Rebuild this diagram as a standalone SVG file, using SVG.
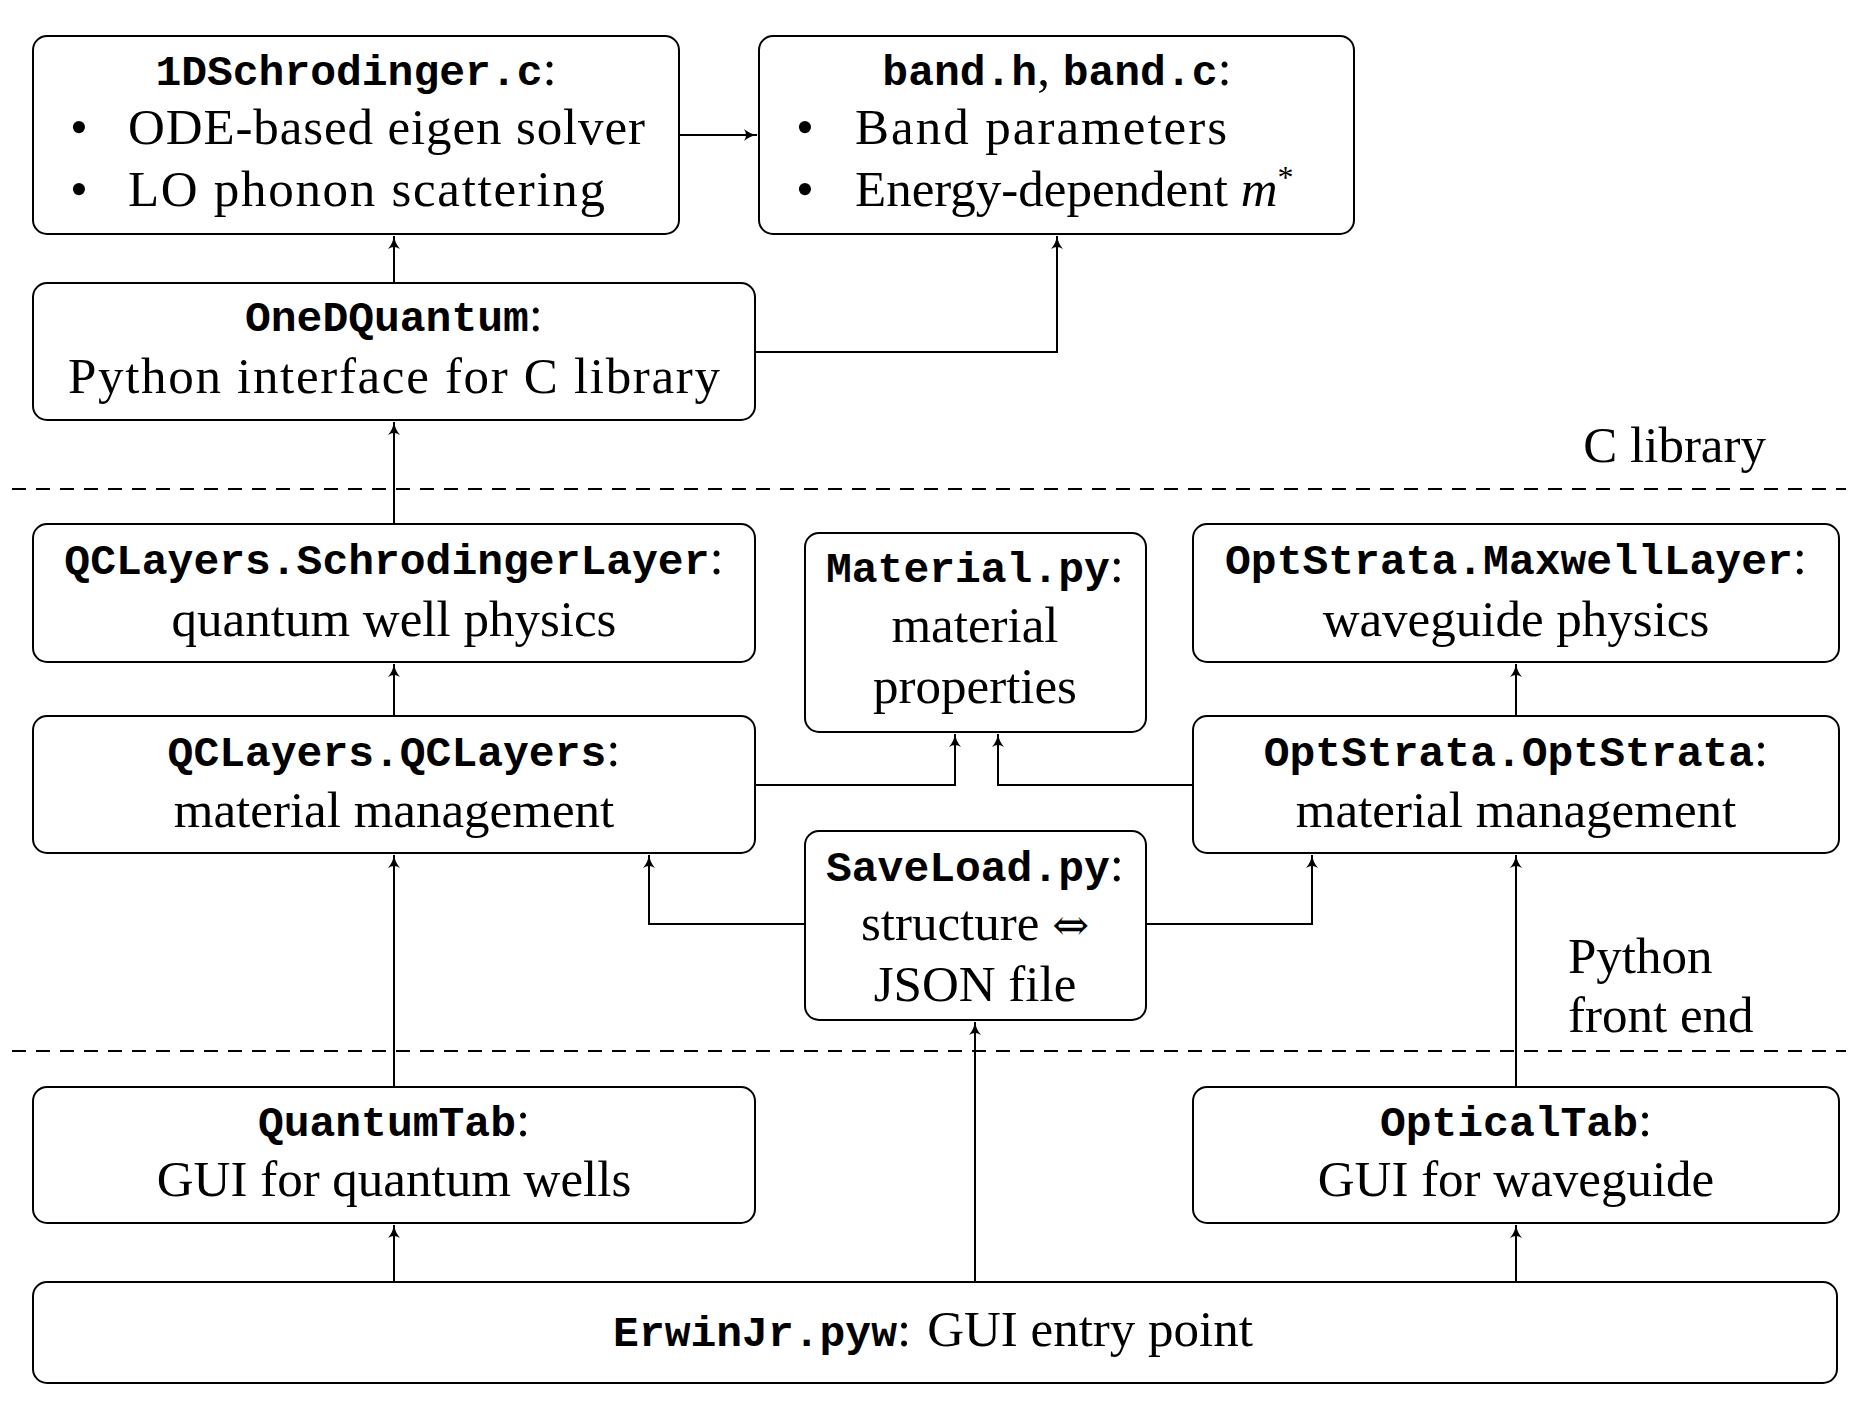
<svg xmlns="http://www.w3.org/2000/svg" width="1856" height="1406" viewBox="0 0 1856 1406">
<style>
.b{fill:#fff;stroke:#000;stroke-width:2}
text{font-family:"Liberation Serif","DejaVu Serif",serif;font-size:51px;fill:#000}
.c{text-anchor:middle}
.m{font-family:"Liberation Mono","DejaVu Sans Mono",monospace;font-size:43px;font-weight:bold;stroke:none}
.l{fill:none;stroke:#000;stroke-width:2}
.d{fill:none;stroke:#000;stroke-width:2;stroke-dasharray:14,10}
</style>
<defs><marker id="a" markerWidth="14" markerHeight="12" refX="13" refY="6" orient="auto" markerUnits="userSpaceOnUse"><path d="M0,0 Q6,5 13,6 Q6,7 0,12 Q4,6 0,0Z" fill="#000"/></marker></defs>
<rect width="1856" height="1406" fill="#fff"/>
<g id="connectors">
<line class="d" x1="12" y1="489" x2="1846" y2="489"/>
<line class="d" x1="12" y1="1051" x2="1846" y2="1051"/>
<line class="l" x1="679" y1="135" x2="757" y2="135" marker-end="url(#a)"/>
<line class="l" x1="394" y1="283" x2="394" y2="236" marker-end="url(#a)"/>
<polyline class="l" points="755,352 1057,352 1057,236" marker-end="url(#a)"/>
<line class="l" x1="394" y1="524" x2="394" y2="422" marker-end="url(#a)"/>
<line class="l" x1="394" y1="716" x2="394" y2="664" marker-end="url(#a)"/>
<line class="l" x1="1516" y1="716" x2="1516" y2="664" marker-end="url(#a)"/>
<polyline class="l" points="755,785 955,785 955,734" marker-end="url(#a)"/>
<polyline class="l" points="1193,785 998,785 998,734" marker-end="url(#a)"/>
<polyline class="l" points="805,924 649,924 649,855" marker-end="url(#a)"/>
<polyline class="l" points="1146,924 1312,924 1312,855" marker-end="url(#a)"/>
<line class="l" x1="394" y1="1087" x2="394" y2="855" marker-end="url(#a)"/>
<line class="l" x1="1516" y1="1087" x2="1516" y2="855" marker-end="url(#a)"/>
<line class="l" x1="394" y1="1282" x2="394" y2="1225" marker-end="url(#a)"/>
<line class="l" x1="975" y1="1282" x2="975" y2="1022" marker-end="url(#a)"/>
<line class="l" x1="1516" y1="1282" x2="1516" y2="1225" marker-end="url(#a)"/>
</g>
<g id="n1"><rect class="b" x="33" y="36" width="646" height="198" rx="14"/>
<text class="c" x="356" y="85"><tspan class="m" font-weight="normal">1DSchrodinger.c</tspan>:</text>
<text x="70" y="144" font-size="60">•</text><text x="128" y="144" textLength="517">ODE-based eigen solver</text>
<text x="70" y="206" font-size="60">•</text><text x="128" y="206" textLength="477">LO phonon scattering</text></g>
<g id="n2"><rect class="b" x="759" y="36" width="595" height="198" rx="14"/>
<text class="c" x="1057" y="85"><tspan class="m">band.h</tspan>, <tspan class="m">band.c</tspan>:</text>
<text x="796" y="144" font-size="60">•</text><text x="855" y="144" textLength="372">Band parameters</text>
<text x="796" y="206" font-size="60">•</text><text x="855" y="206">Energy-dependent <tspan font-style="italic">m</tspan><tspan font-size="32" dy="-18">*</tspan></text></g>
<g id="n3"><rect class="b" x="33" y="283" width="722" height="137" rx="14"/>
<text class="c" x="394" y="331"><tspan class="m">OneDQuantum</tspan>:</text>
<text class="c" x="394" y="393" textLength="652">Python interface for C library</text></g>
<text x="1766" y="462" text-anchor="end">C library</text>
<g id="n4"><rect class="b" x="33" y="524" width="722" height="138" rx="14"/>
<text class="c" x="394" y="574"><tspan class="m">QCLayers.SchrodingerLayer</tspan>:</text>
<text class="c" x="394" y="636">quantum well physics</text></g>
<g id="n5"><rect class="b" x="805" y="533" width="341" height="199" rx="14"/>
<text class="c" x="975" y="582"><tspan class="m">Material.py</tspan>:</text>
<text class="c" x="975" y="642">material</text>
<text class="c" x="975" y="703">properties</text></g>
<g id="n6"><rect class="b" x="1193" y="524" width="646" height="138" rx="14"/>
<text class="c" x="1516" y="574"><tspan class="m">OptStrata.MaxwellLayer</tspan>:</text>
<text class="c" x="1516" y="636">waveguide physics</text></g>
<g id="n7"><rect class="b" x="33" y="716" width="722" height="137" rx="14"/>
<text class="c" x="394" y="766"><tspan class="m">QCLayers.QCLayers</tspan>:</text>
<text class="c" x="394" y="827">material management</text></g>
<g id="n8"><rect class="b" x="1193" y="716" width="646" height="137" rx="14"/>
<text class="c" x="1516" y="766"><tspan class="m">OptStrata.OptStrata</tspan>:</text>
<text class="c" x="1516" y="827">material management</text></g>
<g id="n9"><rect class="b" x="805" y="831" width="341" height="189" rx="14"/>
<text class="c" x="975" y="881"><tspan class="m">SaveLoad.py</tspan>:</text>
<text class="c" x="975" y="940">structure <tspan font-family="DejaVu Serif,serif" font-size="44">⇔</tspan></text>
<text class="c" x="975" y="1001">JSON file</text></g>
<text x="1568" y="973">Python</text>
<text x="1568" y="1032">front end</text>
<g id="n10"><rect class="b" x="33" y="1087" width="722" height="136" rx="14"/>
<text class="c" x="394" y="1136"><tspan class="m">QuantumTab</tspan>:</text>
<text class="c" x="394" y="1196">GUI for quantum wells</text></g>
<g id="n11"><rect class="b" x="1193" y="1087" width="646" height="136" rx="14"/>
<text class="c" x="1516" y="1136"><tspan class="m">OpticalTab</tspan>:</text>
<text class="c" x="1516" y="1196">GUI for waveguide</text></g>
<g id="n12"><rect class="b" x="33" y="1282" width="1804" height="101" rx="14"/>
<text class="c" x="933" y="1346"><tspan class="m">ErwinJr.pyw</tspan>:<tspan dx="16">GUI entry point</tspan></text></g>
</svg>
